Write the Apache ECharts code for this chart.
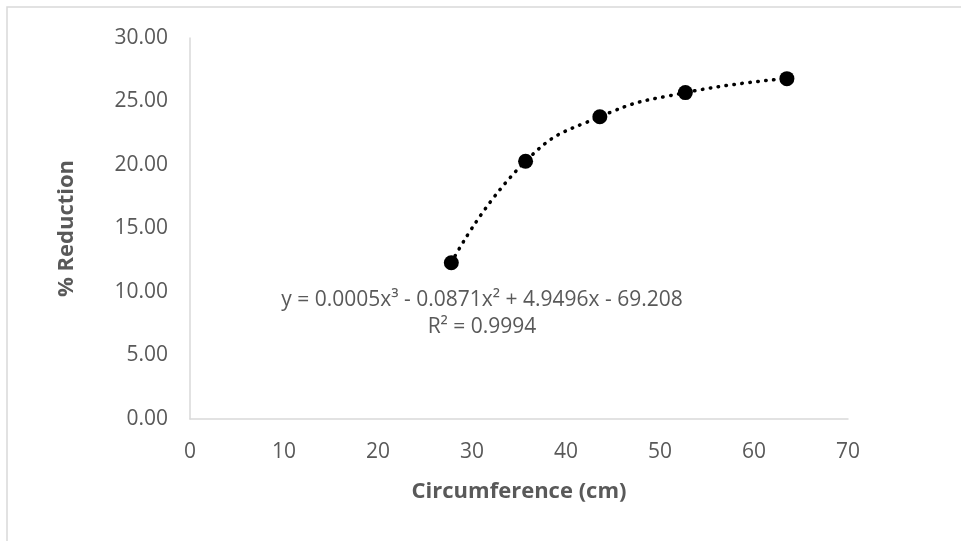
<!DOCTYPE html>
<html>
<head>
<meta charset="utf-8">
<script src="https://cdn.jsdelivr.net/npm/echarts@6/dist/echarts.min.js"></script>
<style>
  html, body { margin: 0; padding: 0; background: #fff; }
  #chart { width: 961px; height: 541px; }
</style>
</head>
<body>
<div id="chart"></div>
<script>
  // measured points (circumference cm, % reduction)
  const circumference = [27.8, 35.7, 43.6, 52.7, 63.5];
  const reduction = [12.3, 20.3, 23.8, 25.7, 26.8];
  const equationText = 'y = 0.0005x\u00b3 - 0.0871x\u00b2 + 4.9496x - 69.208';
  const r2Text = 'R\u00b2 = 0.9994';

  const points = circumference.map((c, i) => [c, reduction[i]]);
  const font = 'Open Sans, Liberation Sans, sans-serif';

  const chart = echarts.init(document.getElementById('chart'));
  chart.setOption({
    backgroundColor: '#ffffff',
    animation: false,
    grid: {
      left: 190,
      right: 113,
      top: 38,
      bottom: 122,
    },
    xAxis: {
      type: 'value',
      min: 0,
      max: 70,
      interval: 10,
      name: 'Circumference (cm)',
      nameLocation: 'middle',
      nameGap: 62,
      nameTextStyle: {color: '#595959', fontSize: 22, fontWeight: 'bold', fontFamily: font},
      axisLine: {lineStyle: {color: '#d9d9d9', width: 1.5}},
      axisTick: {show: false},
      splitLine: {show: false},
      axisLabel: {color: '#595959', fontSize: 21, fontFamily: font, margin: 23},
    },
    yAxis: {
      type: 'value',
      min: 0,
      max: 30,
      interval: 5,
      name: '% Reduction',
      nameLocation: 'middle',
      nameGap: 112,
      nameTextStyle: {color: '#595959', fontSize: 22, fontWeight: 'bold', fontFamily: font},
      axisLine: {show: true, lineStyle: {color: '#d9d9d9', width: 1.5}},
      axisTick: {show: false},
      splitLine: {show: false},
      axisLabel: {
        color: '#595959', fontSize: 21, fontFamily: font, margin: 22,
        formatter: v => v.toFixed(2),
      },
    },
    graphic: [
      {
        type: 'rect',
        shape: {x: 7, y: 7, width: 1000, height: 600},
        style: {fill: 'none', stroke: '#d9d9d9', lineWidth: 1.5},
        silent: true,
      },
      {
        type: 'text',
        x: 482,
        y: 300,
        style: {text: equationText, fill: '#595959', font: '21px ' + font, align: 'center', verticalAlign: 'middle'},
      },
      {
        type: 'text',
        x: 482,
        y: 327,
        style: {text: r2Text, fill: '#595959', font: '21px ' + font, align: 'center', verticalAlign: 'middle'},
      },
    ],
    series: [
      {
        name: 'trend',
        type: 'line',
        smooth: true,
        showSymbol: false,
        data: points,
        lineStyle: {color: '#000', width: 3.5, type: [0.5, 7.5], cap: 'round'},
        z: 1,
      },
      {
        name: 'data',
        type: 'scatter',
        symbol: 'circle',
        symbolSize: 15,
        data: points,
        itemStyle: {color: '#000', opacity: 1},
        z: 2,
      },
    ],
  });
</script>
</body>
</html>
